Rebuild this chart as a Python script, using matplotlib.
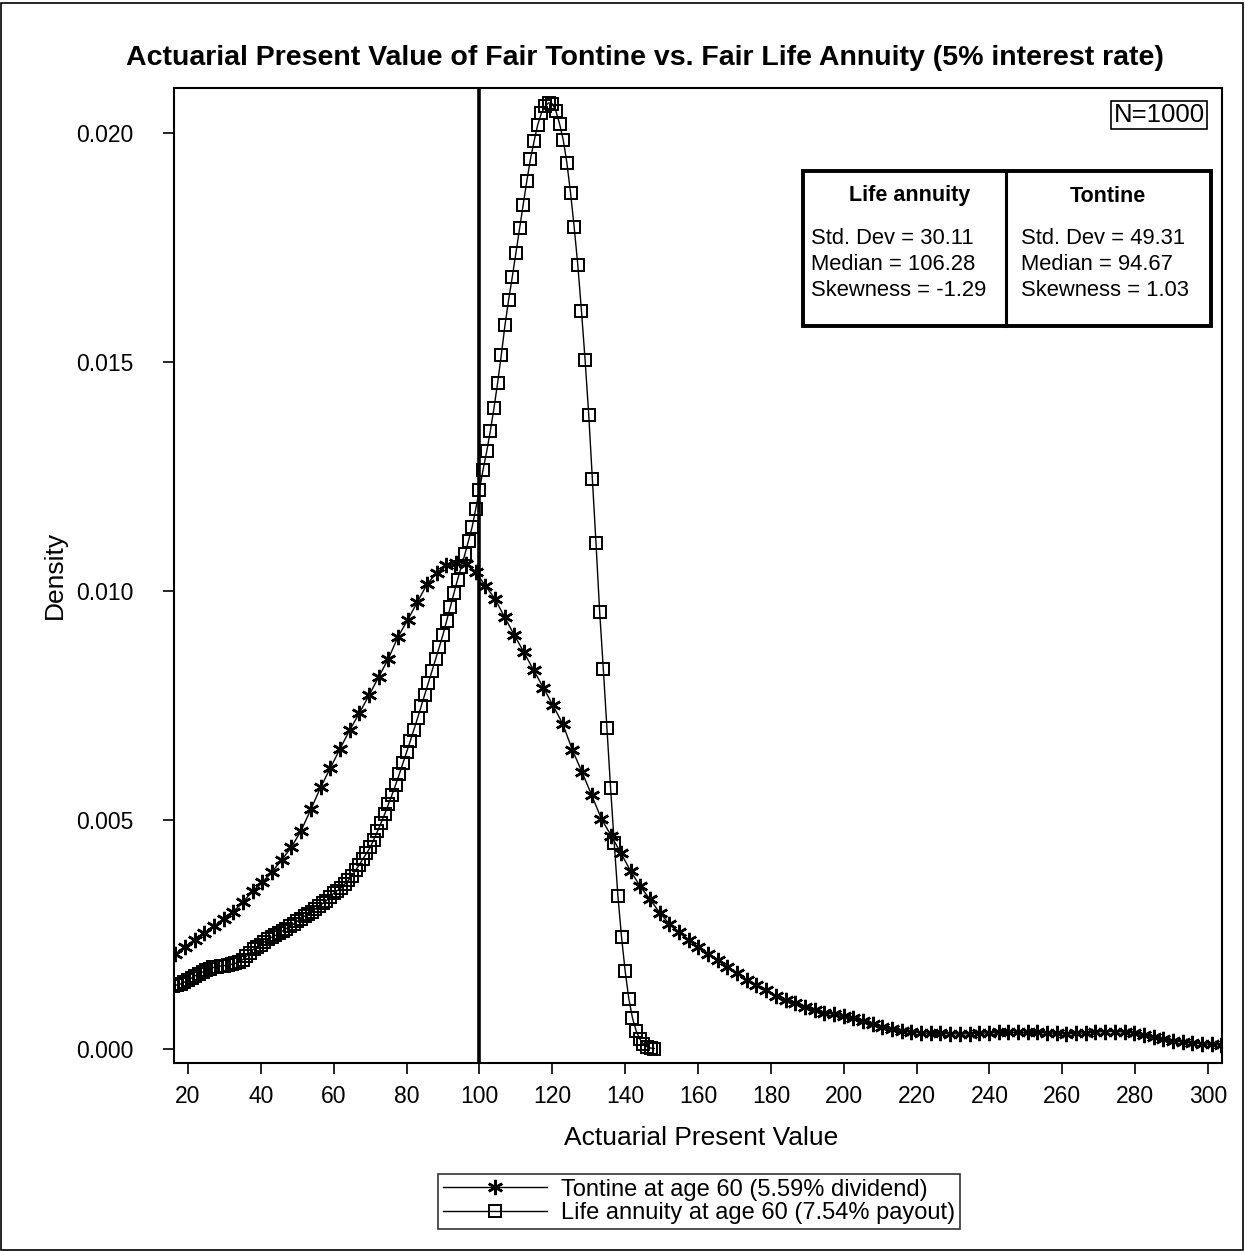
import matplotlib
matplotlib.use('Agg')
import numpy as np
import matplotlib.pyplot as plt
from matplotlib.patches import Rectangle
from matplotlib.lines import Line2D

plt.rcParams['font.family'] = ['Liberation Sans', 'DejaVu Sans']

W, H = 1245, 1251

# ---- data ----
# life annuity density, x = 16..148 step 1
annuity_x0, annuity_x1 = 16, 148
annuity_y = [
    .00138, .00140, .00142, .00146, .00150, .00155, .00160, .00164, .00168, .00172,
    .00175, .00178, .00180, .00181, .00182, .00183, .00185, .00187, .00190, .00195,
    .00202, .00210, .00218, .00223, .00228, .00234, .00240, .00244, .00248, .00253,
    .00258, .00263, .00268, .00273, .00279, .00284, .00290, .00295, .00300, .00306,
    .00312, .00318, .00324, .00332, .00340, .00346, .00352, .00360, .00368, .00378,
    .00390, .00402, .00415, .00427, .00440, .00457, .00475, .00494, .00513, .00534,
    .00555, .00577, .00600, .00624, .00648, .00672, .00697, .00722, .00748, .00774,
    .00800, .00826, .00852, .00878, .00905, .00935, .00965, .00995, .01025, .01052,
    .01080, .01110, .01140, .01180, .01220, .01265, .01305, .01350, .01400, .01455,
    .01515, .01580, .01635, .01685, .01738, .01792, .01843, .01895, .01943, .01982,
    .02018, .02043, .02058, .02066, .02064, .02048, .02020, .01985, .01935, .01870,
    .01795, .01712, .01612, .01505, .01385, .01245, .01104, .00955, .00830, .00700,
    .00570, .00450, .00335, .00245, .00170, .00110, .00068, .00040, .00022, .00011,
    .00005, .00002, .00001,
]

# tontine density, evenly spaced grid 16.5 .. 303.67
tontine_x0, tontine_x1 = 16.5, 303.67
tontine_y = [
    .00207, .00223, .00239, .00254, .00268, .00283, .00300, .00321, .00345, .00364,
    .00387, .00413, .00441, .00477, .00523, .00571, .00613, .00655, .00696, .00733,
    .00772, .00812, .00852, .00900, .00937, .00976, .01015, .01040, .01056, .01062,
    .01060, .01042, .01012, .00983, .00943, .00904, .00866, .00827, .00789, .00750,
    .00710, .00653, .00604, .00554, .00502, .00466, .00428, .00389, .00355, .00327,
    .00298, .00273, .00255, .00237, .00222, .00208, .00194, .00180, .00165, .00151,
    .00140, .00128, .00115, .00108, .00101, .00092, .00085, .00079, .00076, .00073,
    .00068, .00061, .00055, .00049, .00043, .00039, .00037, .00035, .00034, .00034,
    .00033, .00033, .00033, .00034, .00035, .00036, .00036, .00036, .00036, .00036,
    .00035, .00034, .00033, .00034, .00035, .00037, .00038, .00038, .00037, .00035,
    .00031, .00026, .00021, .00018, .00015, .00013, .00011, .00010, .00009,
]

xticks = list(range(20, 301, 20))
yticks = [0.000, 0.005, 0.010, 0.015, 0.020]
ref_x = 100

stat_cols = ['Life annuity', 'Tontine']
stat_lines = [
    ['Std. Dev = 30.11', 'Median = 106.28', 'Skewness = -1.29'],
    ['Std. Dev = 49.31', 'Median = 94.67', 'Skewness = 1.03'],
]
n_label = 'N=1000'
legend_labels = ['Tontine at age 60 (5.59% dividend)',
                 'Life annuity at age 60 (7.54% payout)']

annuity_x = np.linspace(annuity_x0, annuity_x1, len(annuity_y))
tontine_x = np.linspace(tontine_x0, tontine_x1, len(tontine_y))


def fx(px):
    return px / W


def fy(py):
    return 1 - py / H


fig = plt.figure(figsize=(W / 100, H / 100), dpi=100)
ax = fig.add_axes([fx(174), fy(1063), fx(1222) - fx(174), fy(88) - fy(1063)])

star = (6, 2, 0)
l1, = ax.plot(tontine_x, tontine_y, color='black', lw=1.0, marker=star,
              ms=11, mew=1.8, mec='black')
l2, = ax.plot(annuity_x, annuity_y, color='black', lw=1.0, marker='s',
              ms=8, mew=1.4, mec='black', mfc='none')
ax.axvline(ref_x, color='black', lw=2.6)

ax.set_xlim(16.16, 303.83)
ax.set_ylim(-0.000306, 0.020983)
ax.set_xticks(xticks)
ax.set_yticks(yticks)
ax.set_yticklabels(['%.3f' % v for v in yticks])
ax.tick_params(axis='both', labelsize=16.5, length=8, width=1.2, direction='out')
ax.tick_params(axis='x', pad=8)
ax.tick_params(axis='y', pad=21)
for s in ax.spines.values():
    s.set_linewidth(1.5)

fig.text(fx(645), fy(58), 'Actuarial Present Value of Fair Tontine vs. Fair Life Annuity (5% interest rate)',
         ha='center', va='center', fontsize=20.5, fontweight='bold')
fig.text(fx(701), fy(1138), 'Actuarial Present Value', ha='center', va='center', fontsize=19)
fig.text(fx(55), fy(575), 'Density', ha='center', va='center', rotation=90, fontsize=19)

# N box
fig.text(fx(1159), fy(115), n_label, ha='center', va='center', fontsize=18.5,
         bbox=dict(boxstyle='square,pad=0.08', fc='white', ec='black', lw=1.2))

# stats table
fig.patches.append(Rectangle((fx(803), fy(326)), fx(1211) - fx(803), fy(171) - fy(326),
                             transform=fig.transFigure, fill=False, ec='black', lw=2.8))
fig.add_artist(Line2D([fx(1006), fx(1006)], [fy(171), fy(326)], color='black', lw=2.2))
col_left = [811, 1021]
col_mid = [910, 1108]
for i in range(2):
    fig.text(fx(col_mid[i]), fy(196), stat_cols[i], ha='center', va='center',
             fontsize=15.5, fontweight='bold')
    for j, t in enumerate(stat_lines[i]):
        fig.text(fx(col_left[i]), fy(239 + 26 * j), t, ha='left', va='center', fontsize=15.8)

leg = fig.legend([l1, l2], legend_labels, loc='upper center',
                 bbox_to_anchor=(fx(699), fy(1174)), fontsize=17, frameon=True,
                 fancybox=False, edgecolor='black', numpoints=1, handlelength=4.4,
                 borderpad=0.2, labelspacing=0.05, handletextpad=0.6, borderaxespad=0)
leg.get_frame().set_linewidth(1.2)

# outer border
fig.patches.append(Rectangle((0.001, 0.001), 0.997, 0.997, transform=fig.transFigure,
                             fill=False, ec='black', lw=1.2))

fig.savefig('out.png', dpi=100)
